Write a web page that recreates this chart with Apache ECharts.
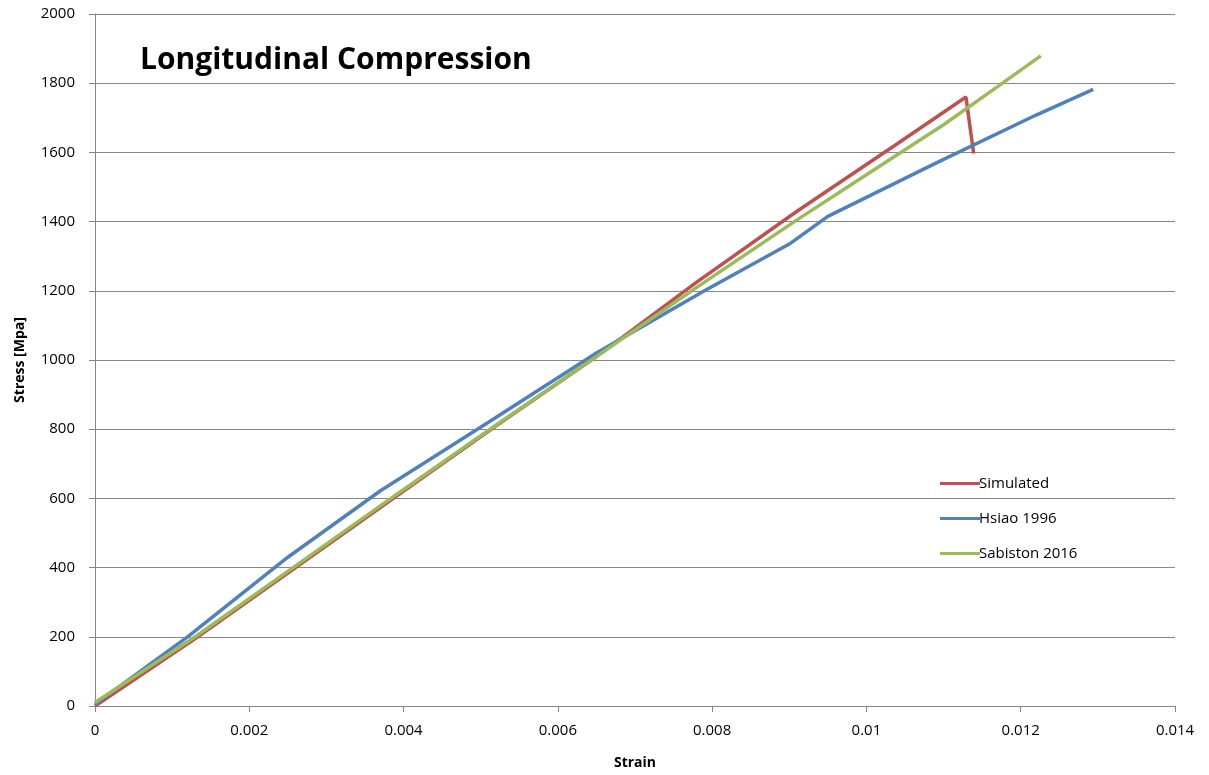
<!DOCTYPE html>
<html>
<head>
<meta charset="utf-8">
<script src="https://cdn.jsdelivr.net/npm/echarts@6/dist/echarts.min.js"></script>
<style>
html,body{margin:0;padding:0;background:#fff;}
#chart{width:1209px;height:775px;}
</style>
</head>
<body>
<div id="chart"></div>
<script>
// Strain / stress pairs
const simulatedStrain = [0, 0.0013, 0.0026, 0.0039, 0.0052, 0.0065, 0.0078, 0.0091, 0.0104, 0.01129, 0.01139];
const simulatedStress = [0, 195, 400, 605, 810, 1010, 1225, 1430, 1625, 1760, 1597];

const hsiaoStrain = [0, 0.0012, 0.0025, 0.0037, 0.0051, 0.0065, 0.0079, 0.009, 0.0095, 0.0109, 0.0122, 0.01294];
const hsiaoStress = [5, 200, 430, 622, 820, 1020, 1200, 1335, 1415, 1569, 1708, 1782];

const sabistonStrain = [0, 0.0013, 0.0026, 0.0039, 0.0052, 0.0065, 0.0078, 0.0091, 0.0101, 0.011, 0.0117, 0.01226];
const sabistonStress = [10, 200, 405, 610, 812, 1010, 1210, 1405, 1550, 1680, 1790, 1879];

const seriesNames = ['Simulated', 'Hsiao 1996', 'Sabiston 2016'];
const seriesColors = ['#C0504D', '#4F81BD', '#9BBB59'];
const titleText = 'Longitudinal Compression';
const xAxisName = 'Strain';
const yAxisName = 'Stress [Mpa]';

function pairs(xs, ys) { return xs.map((x, i) => [x, ys[i]]); }

const chart = echarts.init(document.getElementById('chart'));
const font = 'Open Sans';
chart.setOption({
  animation: false,
  title: {
    text: titleText, left: 135, top: 40,
    textStyle: { fontFamily: font, fontWeight: 'bold', fontSize: 30, color: '#000' }
  },
  legend: {
    orient: 'vertical', left: 935, top: 471,
    icon: 'rect', itemWidth: 40, itemHeight: 3, itemGap: 20,
    textStyle: { fontFamily: font, fontSize: 15, color: '#000', padding: [0,0,0,-6] },
    data: seriesNames
  },
  grid: { left: 95, right: 34, top: 14, bottom: 69, containLabel: false },
  xAxis: {
    type: 'value', min: 0, max: 0.014, interval: 0.002,
    name: xAxisName, nameLocation: 'middle', nameGap: 50,
    nameTextStyle: { fontFamily: font, fontWeight: 'bold', fontSize: 14, color: '#000' },
    axisLine: { show: true, lineStyle: { color: '#868686', width: 1 } },
    axisTick: { show: true, length: 6, lineStyle: { color: '#868686' } },
    axisLabel: { fontFamily: font, fontSize: 15, color: '#000', margin: 17,
      formatter: v => String(+v.toFixed(3)) },
    splitLine: { show: false }
  },
  yAxis: {
    type: 'value', min: 0, max: 2000, interval: 200,
    name: yAxisName, nameLocation: 'middle', nameGap: 68, nameRotate: 90,
    nameTextStyle: { fontFamily: font, fontWeight: 'bold', fontSize: 14, color: '#000' },
    axisLine: { show: true, lineStyle: { color: '#868686', width: 1 } },
    axisTick: { show: true, length: 6, lineStyle: { color: '#868686' } },
    axisLabel: { fontFamily: font, fontSize: 15, color: '#000', margin: 20,
      formatter: v => String(v) },
    splitLine: { show: true, lineStyle: { color: '#868686', width: 1.2 } }
  },
  series: [
    { name: seriesNames[0], type: 'line', data: pairs(simulatedStrain, simulatedStress) },
    { name: seriesNames[1], type: 'line', data: pairs(hsiaoStrain, hsiaoStress) },
    { name: seriesNames[2], type: 'line', data: pairs(sabistonStrain, sabistonStress) }
  ].map((s, i) => Object.assign(s, {
    showSymbol: false, symbol: 'none', smooth: false,
    lineStyle: { color: seriesColors[i], width: 3.5 },
    itemStyle: { color: seriesColors[i] }
  }))
});
</script>
</body>
</html>
